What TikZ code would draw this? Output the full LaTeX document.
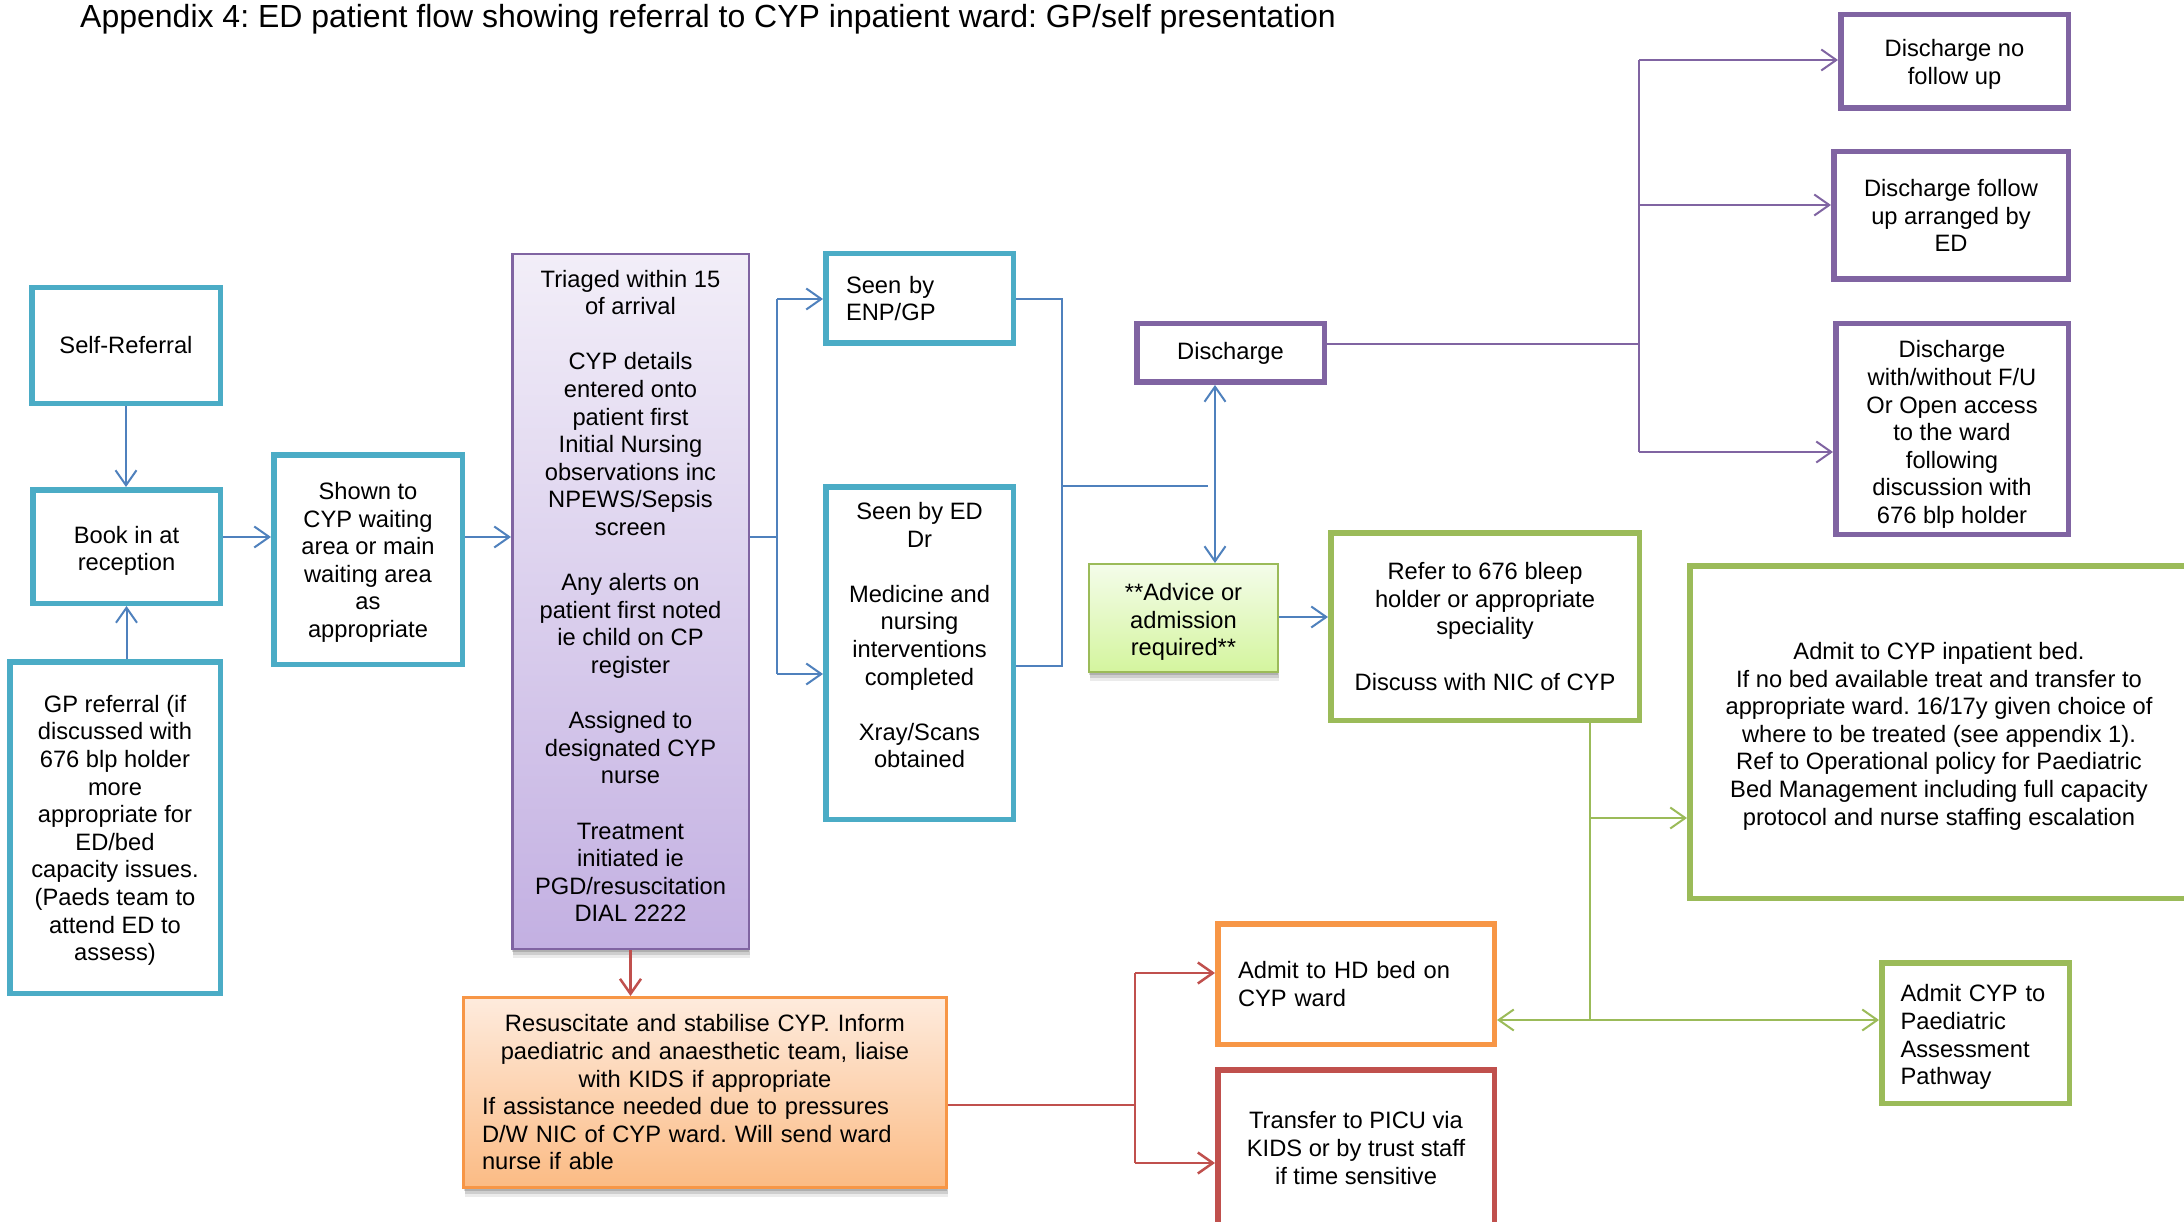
\documentclass[tikz,border=0pt]{standalone}
\usepackage{fontspec}
\setmainfont{Liberation Sans}
\usetikzlibrary{arrows.meta,shadows}
\definecolor{cBlueBox}{HTML}{4BACC6}
\definecolor{cPurple}{HTML}{8064A2}
\definecolor{cGreen}{HTML}{9BBB59}
\definecolor{cOrange}{HTML}{F79646}
\definecolor{cRed}{HTML}{C0504D}
\definecolor{cLine}{HTML}{4F81BD}
\definecolor{trTop}{HTML}{F2EEF8}
\definecolor{trBot}{HTML}{C3B0E2}
\definecolor{adTop}{HTML}{F4FCEA}
\definecolor{adBot}{HTML}{D4F59E}
\definecolor{reTop}{HTML}{FEEBDD}
\definecolor{reBot}{HTML}{FBBB84}
\frenchspacing
\begin{document}
\begin{tikzpicture}[x=1pt,y=-1pt,
  txt/.style={font=\fontsize{23.7}{27.6}\selectfont},
  sz/.style 2 args={minimum width=#1pt,minimum height=#2pt},
  box/.style={txt,draw,line width=5.5pt,fill=white,inner sep=0pt,align=center},
  bluebox/.style={box,draw=cBlueBox},
  purpbox/.style={box,draw=cPurple},
  greenbox/.style={box,draw=cGreen},
  orangebox/.style={box,draw=cOrange},
  redbox/.style={box,draw=cRed},
  lefttext/.style 2 args={align=left,text width=#1pt,inner xsep=#2pt},
  softshadow/.style={
    drop shadow={shadow xshift=1pt,shadow yshift=-9pt,opacity=0.08,fill=black},
    drop shadow={shadow xshift=1pt,shadow yshift=-6pt,opacity=0.12,fill=black},
    drop shadow={shadow xshift=0pt,shadow yshift=-3pt,opacity=0.15,fill=black}},
  conn/.style={line width=2pt},
  bluecon/.style={conn,draw=cLine},
  purpcon/.style={conn,draw=cPurple},
  greencon/.style={conn,draw=cGreen},
  redcon/.style={line width=2.5pt,draw=cRed},
  arr/.style={-{Straight Barb[length=15pt,width=21pt]}},
  darr/.style={{Straight Barb[length=15pt,width=21pt]}-{Straight Barb[length=15pt,width=21pt]}},
]
\useasboundingbox (0,0) rectangle (2184,1222);
\clip (0,0) rectangle (2184,1222);
\fill[white] (0,0) rectangle (2184,1222);

\node[anchor=base west,font=\fontsize{32}{38}\selectfont,inner sep=0pt] (title) at (80,28)
  {Appendix 4: ED patient flow showing referral to CYP inpatient ward: GP/self presentation};

% left column
\node[bluebox,sz={188.5}{115.5}] (self) at (126,345.5) {Self-Referral};
\node[bluebox,sz={187.5}{113.5}] (book) at (126.5,546.5) {\mbox{}\\[-1.9pt]Book in at\\reception};
\node[bluebox,sz={210.5}{331.5}] (gp) at (115,827.5) {\mbox{}\\[-4.7pt]GP referral (if\\discussed with\\676 blp holder\\more\\appropriate for\\ED/bed\\capacity issues.\\(Paeds team to\\attend ED to\\assess)};
\node[bluebox,sz={188.5}{209.5}] (shown) at (368,559.5) {\mbox{}\\[-4.7pt]Shown to\\CYP waiting\\area or main\\waiting area\\as\\appropriate};

\node[txt,draw=cPurple,line width=2.5pt,top color=trTop,bottom color=trBot,softshadow,sz={236.5}{694.5},inner sep=0pt,align=center] (tri) at (630.5,601.5)
  {Triaged within 15\\of arrival\\[27.6pt]CYP details\\entered onto\\patient first\\Initial Nursing\\observations inc\\NPEWS/Sepsis\\screen\\[27.6pt]Any alerts on\\patient first noted\\ie child on CP\\register\\[27.6pt]Assigned to\\designated CYP\\nurse\\[27.6pt]Treatment\\initiated ie\\PGD/resuscitation\\DIAL 2222\\[-16.4pt]\mbox{}};

\node[bluebox,sz={187.5}{89.5},lefttext={147}{20.25}] (enp) at (919.5,298.5) {Seen by\\ENP/GP};
\node[bluebox,sz={187.5}{332.5}] (eddr) at (919.5,653) {Seen by ED\\Dr\\[27.6pt]Medicine and\\nursing\\interventions\\completed\\[27.6pt]Xray/Scans\\obtained\\\strut};

\node[purpbox,sz={187.5}{58.5}] (dis) at (1230.5,353) {Discharge};
\node[txt,draw=cGreen,line width=2pt,top color=adTop,bottom color=adBot,softshadow,sz={189}{108},inner sep=0pt,align=center] (adv) at (1183.5,618) {\mbox{}\\[-1.9pt]**Advice or\\admission\\required**};
\node[greenbox,sz={308.5}{187.5}] (refer) at (1485,626.5) {Refer to 676 bleep\\holder or appropriate\\speciality\\[27.6pt]Discuss with NIC of CYP};

\node[purpbox,sz={227.5}{93.5}] (dnf) at (1954.5,61.5) {\mbox{}\\[-4.7pt]Discharge no\\follow up};
\node[purpbox,sz={234.5}{127.5}] (dfu) at (1951,215.5) {Discharge follow\\up arranged by\\ED};
\node[purpbox,sz={232.5}{210.5}] (dww) at (1952,429) {\mbox{}\\[0.9pt]Discharge\\with/without F/U\\Or Open access\\to the ward\\following\\discussion with\\676 blp holder};

\node[greenbox,sz={498.5}{332.5}] (inpat) at (1939,732) {\mbox{}\\[-1.9pt]Admit to CYP inpatient bed.\\If no bed available treat and transfer to\\appropriate ward. 16/17y given choice of\\where to be treated (see appendix 1).\\Ref to Operational policy for Paediatric\\Bed Management including full capacity\\protocol and nurse staffing escalation};

\node[orangebox,sz={276.5}{120.5},lefttext={236}{20.25}] (hd) at (1356,984) {Admit to HD bed on\\CYP ward};
\node[redbox,sz={276.5}{156.5}] (picu) at (1356,1148) {Transfer to PICU via\\KIDS or by trust staff\\if time sensitive};
\node[greenbox,sz={187.5}{140.5},lefttext={150}{18.75}] (paed) at (1975.5,1033) {\mbox{}\\[-1.9pt]Admit CYP to\\Paediatric\\Assessment\\Pathway};

\node[txt,draw=cOrange,line width=3pt,top color=reTop,bottom color=reBot,softshadow,sz={483}{190},inner sep=0pt,align=left,text width=446pt,inner xsep=18.5pt] (resus) at (705,1092.5)
  {\makebox[446pt][c]{Resuscitate and stabilise CYP. Inform}\\\makebox[446pt][c]{paediatric and anaesthetic team, liaise}\\\makebox[446pt][c]{with KIDS if appropriate}\\If assistance needed due to pressures\\D/W NIC of CYP ward. Will send ward\\nurse if able};

% blue connectors
\coordinate (mainy) at (0,537);
\draw[bluecon,arr] (self.south) -- (self.south |- book.north);
\draw[bluecon,arr] (book.south |- gp.north) -- (book.south);
\draw[bluecon,arr] (book.east |- mainy) -- (shown.west |- mainy);
\draw[bluecon,arr] (shown.east |- mainy) -- (tri.west |- mainy);
\coordinate (fork) at (777,537);
\coordinate (forkt) at (777,299);
\coordinate (forkb) at (777,674);
\draw[bluecon] (tri.east |- mainy) -- (fork);
\draw[bluecon] (forkt) -- (forkb);
\draw[bluecon,arr] (forkt) -- (enp.west |- forkt);
\draw[bluecon,arr] (forkb) -- (eddr.west |- forkb);
\coordinate (jt) at (1062,299);
\coordinate (jb) at (1062,666);
\coordinate (jm) at (1062,486);
\coordinate (stub) at (1208,486);
\draw[bluecon] (enp.east |- jt) -- (jt) -- (jb) -- (eddr.east |- jb);
\draw[bluecon] (jm) -- (stub);
\coordinate (dax) at (1215,0);
\draw[bluecon,darr] (dis.south -| dax) -- (adv.north -| dax);
\coordinate (ary) at (0,617);
\draw[bluecon,arr] (adv.east |- ary) -- (refer.west |- ary);

% purple connectors
\coordinate (pv) at (1639,344);
\coordinate (pt) at (1639,60);
\coordinate (pm) at (1639,205);
\coordinate (pb) at (1639,452);
\draw[purpcon] (dis.east |- pv) -- (pv);
\draw[purpcon] (pt) -- (pb);
\draw[purpcon,arr] (pt) -- (dnf.west |- pt);
\draw[purpcon,arr] (pm) -- (dfu.west |- pm);
\draw[purpcon,arr] (pb) -- (dww.west |- pb);

% green connectors
\coordinate (g1) at (1590,818);
\coordinate (g2) at (1590,1020);
\draw[greencon] (refer.south -| g1) -- (g1) -- (g2);
\draw[greencon,arr] (g1) -- (inpat.west |- g1);
\draw[greencon,arr] (g2) -- (hd.east |- g2);
\draw[greencon,arr] (g2) -- (paed.west |- g2);

% red connectors
\draw[redcon,arr] (tri.south) -- (resus.north -| tri.south);
\coordinate (r0) at (1135,1105);
\coordinate (r1) at (1135,973);
\coordinate (r2) at (1135,1163);
\draw[redcon] (resus.east |- r0) -- (r0);
\draw[redcon] (r1) -- (r2);
\draw[redcon,arr] (r1) -- (hd.west |- r1);
\draw[redcon,arr] (r2) -- (picu.west |- r2);
\end{tikzpicture}
\end{document}
